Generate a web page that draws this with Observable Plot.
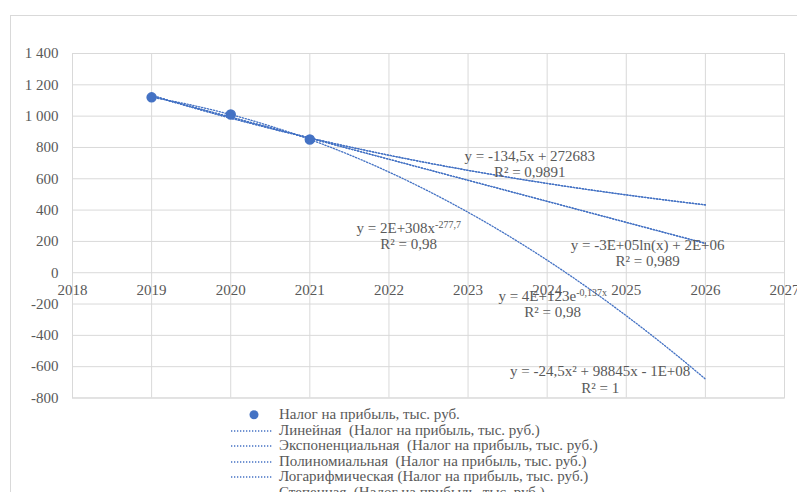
<!DOCTYPE html>
<html><head><meta charset="utf-8">
<script src="https://cdn.jsdelivr.net/npm/d3@7"></script>
<script src="https://cdn.jsdelivr.net/npm/@observablehq/plot@0.6"></script>
<style>
body{margin:0;background:#fff;}
#wrap{position:relative;width:797px;height:492px;overflow:hidden;font-family:"Liberation Serif",serif;}
#border{position:absolute;left:10px;top:15px;width:900px;height:700px;border:1px solid #d9d9d9;box-sizing:border-box;}
#chart{position:absolute;left:0;top:0;}
#chart svg, #chart svg text{font-family:"Liberation Serif",serif !important;}
#legend{position:absolute;left:229px;top:407px;font-size:15px;color:#595959;}
.row{height:15.5px;display:flex;align-items:center;white-space:pre;}
.sym{width:50px;height:15.5px;display:block;}
</style></head>
<body><div id="wrap"><div id="border"></div><div id="chart"></div><div id="legend"></div></div>
<script>
// ---- data ----
const years = [2019, 2020, 2021];
const taxValues = [1120, 1010, 851];
const seriesName = "Налог на прибыль, тыс. руб.";
const trendNames = ["Линейная  ", "Экспоненциальная  ", "Полиномиальная  ", "Логарифмическая ", "Степенная  "];
const trendEnd = 2026;
const xTicks = [2018, 2019, 2020, 2021, 2022, 2023, 2024, 2025, 2026, 2027];
const xTickLabels = ["2018", "2019", "2020", "2021", "2022", "2023", "2024", "2025", "2026", "2027"];
const yTicks = [-800, -600, -400, -200, 0, 200, 400, 600, 800, 1000, 1200, 1400];
const yTickLabels = ["-800", "-600", "-400", "-200", "0", "200", "400", "600", "800", "1 000", "1 200", "1 400"];
const eqTexts = [
  "y = -134,5x + 272683\nR² = 0,9891",
  "y = 2E+308x^{-277,7}\nR² = 0,98",
  "y = -3E+05ln(x) + 2E+06\nR² = 0,989",
  "y = 4E+123e^{-0,137x}\nR² = 0,98",
  "y = -24,5x² + 98845x - 1E+08\nR² = 1"
];
const eqX = [2023.78, 2022.25, 2025.27, 2024.07, 2024.67];
const eqY = [698, 238, 124, -199, -681];

// ---- trend fits (least squares on the data) ----
function linFit(xs, ys) {
  const mx = d3.mean(xs), my = d3.mean(ys);
  let sxy = 0, sxx = 0;
  xs.forEach((x, i) => { sxy += (x - mx) * (ys[i] - my); sxx += (x - mx) ** 2; });
  const b = sxy / sxx;
  return x => my + b * (x - mx);
}
function polyFit(xs, ys) {
  const mx = d3.mean(xs);
  const t = xs.map(x => x - mx);
  const S = k => d3.sum(t, v => v ** k);
  const T = k => d3.sum(t, (v, i) => v ** k * ys[i]);
  const A = [[S(0), S(1), S(2)], [S(1), S(2), S(3)], [S(2), S(3), S(4)]];
  const B = [T(0), T(1), T(2)];
  const det = m => m[0][0]*(m[1][1]*m[2][2]-m[1][2]*m[2][1]) - m[0][1]*(m[1][0]*m[2][2]-m[1][2]*m[2][0]) + m[0][2]*(m[1][0]*m[2][1]-m[1][1]*m[2][0]);
  const D = det(A);
  const c = [0, 1, 2].map(j => det(A.map((r, i) => r.map((v, k) => k === j ? B[i] : v))) / D);
  return x => c[0] + c[1] * (x - mx) + c[2] * (x - mx) ** 2;
}
const lnY = taxValues.map(Math.log), lnX = years.map(Math.log);
const fLin = linFit(years, taxValues);
const fExpL = linFit(years, lnY);
const fPoly = polyFit(years, taxValues);
const fLogL = linFit(lnX, taxValues);
const fPowL = linFit(lnX, lnY);
const fits = [
  x => fLin(x),
  x => Math.exp(fExpL(x)),
  x => fPoly(x),
  x => fLogL(Math.log(x)),
  x => Math.exp(fPowL(Math.log(x)))
];
const xs = d3.range(years[0], trendEnd + 1e-9, 0.05);
const trendRows = [];
fits.forEach((f, k) => xs.forEach(x => trendRows.push({k, x, y: f(x)})));

const points = years.map((x, i) => ({x, y: taxValues[i]}));
const labels = eqTexts.map((t, i) => ({t, x: eqX[i], y: eqY[i]}));

const blue = "#4472C4", grid = "#d9d9d9", ink = "#595959";
const serif = "Liberation Serif";

const chart = Plot.plot({
  width: 797, height: 492,
  marginLeft: 72, marginRight: 13, marginTop: 53, marginBottom: 94.5,
  style: "font-family: 'Liberation Serif', serif; font-size: 15px; color: #595959; background: transparent;",
  x: {domain: [2018, 2027], axis: null},
  y: {domain: [-800, 1400]},
  marks: [
    Plot.gridY(yTicks, {stroke: grid, strokeOpacity: 1}),
    Plot.gridX(xTicks, {stroke: grid, strokeOpacity: 1}),
    Plot.frame({stroke: grid}),
    Plot.axisY(yTicks, {tickSize: 0, tickPadding: 14, label: null, tickFormat: d => yTickLabels[yTicks.indexOf(d)], fontSize: 15, fontFamily: serif}),
    Plot.text(xTicks, {x: d => d, y: 0, dy: 17, text: (d, i) => xTickLabels[i], fill: ink, fontSize: 15, fontFamily: serif}),
    Plot.line(trendRows, {x: "x", y: "y", z: "k", stroke: blue, strokeWidth: 1.3, strokeDasharray: "1.3,1.7", clip: true}),
    Plot.dot(points, {x: "x", y: "y", r: 4.5, fill: blue, stroke: blue}),
    Plot.text(labels, {x: "x", y: "y", text: "t", fill: ink, fontSize: 15, lineHeight: 1.07, fontFamily: serif})
  ]
});
document.getElementById("chart").appendChild(chart);

// superscripts: replace ^{...} with shifted tspans
chart.querySelectorAll("tspan, text").forEach(el => {
  if (el.children.length) return;
  const s = el.textContent;
  const m = s.match(/^(.*)\^\{(.*)\}(.*)$/);
  if (!m) return;
  el.textContent = m[1];
  const sup = document.createElementNS("http://www.w3.org/2000/svg", "tspan");
  sup.setAttribute("baseline-shift", "super");
  sup.setAttribute("font-size", "10px");
  sup.textContent = m[2];
  el.appendChild(sup);
  if (m[3]) el.appendChild(document.createTextNode(m[3]));
});

// legend
const legend = d3.select("#legend");
const r0 = legend.append("div").attr("class", "row");
const s0 = r0.append("svg").attr("class", "sym").attr("width", 50).attr("height", 15.5);
s0.append("circle").attr("cx", 25).attr("cy", 7.75).attr("r", 4.5).attr("fill", blue);
r0.append("span").text(seriesName);
trendNames.forEach(n => {
  const r = legend.append("div").attr("class", "row");
  const s = r.append("svg").attr("class", "sym").attr("width", 50).attr("height", 15.5);
  s.append("line").attr("x1", 2).attr("x2", 44).attr("y1", 8).attr("y2", 8)
    .attr("stroke", blue).attr("stroke-width", 1.3).attr("stroke-dasharray", "1.3,1.7");
  r.append("span").text(n + "(" + seriesName + ")");
});
</script></body></html>
